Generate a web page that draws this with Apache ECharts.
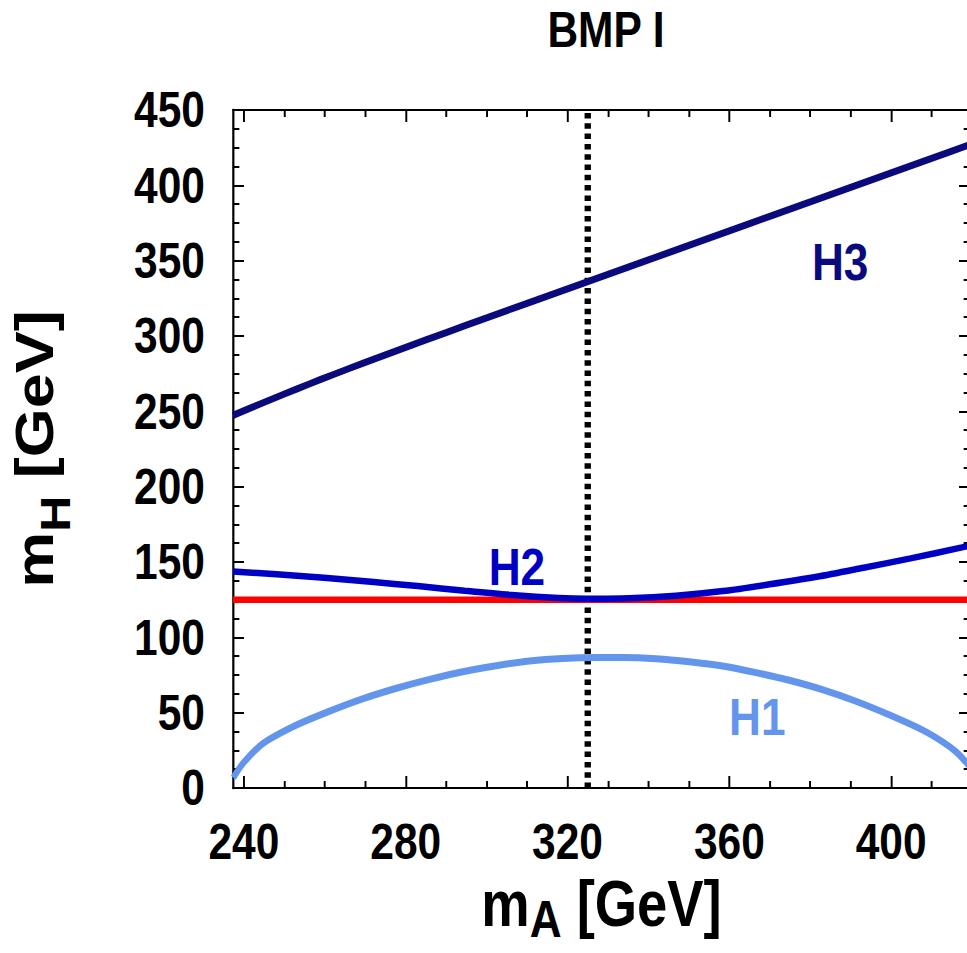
<!DOCTYPE html>
<html>
<head>
<meta charset="utf-8">
<script src="https://cdn.jsdelivr.net/npm/echarts@6/dist/echarts.min.js"></script>
<style>
html,body{margin:0;padding:0;background:#fff;overflow:hidden;width:967px;height:953px;}
#c{width:1138px;height:953px;transform:scaleX(0.85);transform-origin:0 0;}
</style>
</head>
<body>
<div id="c"></div>
<script>
// ---- data ----
const X_RANGE = [237.3, 419.5];
const Y_RANGE = [0, 450];
const X_MAJOR = [240, 280, 320, 360, 400];
const X_MINOR = [250, 260, 270, 290, 300, 310, 330, 340, 350, 370, 380, 390, 410];
const Y_MAJOR = [0, 50, 100, 150, 200, 250, 300, 350, 400, 450];
const Y_MINOR = [12.5, 25, 37.5, 62.5, 75, 87.5, 112.5, 125, 137.5, 162.5, 175, 187.5, 212.5, 225, 237.5, 262.5, 275, 287.5, 312.5, 325, 337.5, 362.5, 375, 387.5, 412.5, 425, 437.5];

const mA_H1 = [237.4, 239.8, 244.8, 253.0, 261.2, 269.5, 277.7, 285.9, 294.1, 302.4, 310.6, 318.8, 327.1, 333.7, 341.9, 350.1, 358.3, 366.6, 374.8, 383.0, 391.3, 399.5, 407.7, 412.7, 416.0, 418.4, 419.5];
const mH1   = [6.8, 16.4, 29.7, 41.8, 51.0, 59.3, 66.2, 72.1, 77.2, 81.2, 84.3, 86.0, 86.6, 86.6, 85.8, 83.8, 81.0, 76.6, 71.5, 65.3, 57.6, 48.6, 38.6, 30.7, 24.1, 17.5, 14.0];

const mA_H2 = [237.3, 248.1, 259.8, 271.4, 283.0, 294.6, 306.2, 317.8, 324.7, 335.2, 346.8, 358.4, 370.0, 381.6, 393.2, 404.8, 417.5, 419.5];
const mH2   = [143.7, 141.8, 139.6, 136.9, 134.0, 130.9, 128.1, 126.1, 125.6, 125.9, 127.6, 130.7, 135.2, 140.2, 146.2, 152.4, 159.7, 160.9];

const mA_H3 = [237.3, 244, 250, 256, 262, 270, 280, 290, 300, 310, 320, 330, 340, 350, 360, 370, 380, 390, 400, 410, 420];
const mH3   = [247.3, 254.9, 261.5, 268.0, 274.3, 282.5, 292.5, 302.3, 312.0, 321.7, 331.3, 340.9, 350.5, 360.1, 369.8, 379.4, 389.0, 398.7, 408.3, 417.9, 427.5];

const HIGGS_MASS = 125;
const MA_BENCHMARK = 325;

const LABELS = [
  {name: 'H3', x: 387.4, y: 349.5, color: '#0a0a7c'},
  {name: 'H2', x: 307.5, y: 147.0, color: '#0000c4'},
  {name: 'H1', x: 366.9, y: 47.4, color: '#6495ed'}
];

// ---- chart ----
const FONT = "'Liberation Sans', Arial, Helvetica, sans-serif";
const zip = (xs, ys) => xs.map((x, i) => [x, ys[i]]);

function xAxisDef(pos, ticks, len, showLabel, showLine) {
  return {
    type: 'value', position: pos, min: X_RANGE[0], max: X_RANGE[1],
    axisLine: {show: showLine, onZero: false, lineStyle: {color: '#000', width: 2.2}},
    axisTick: {show: true, inside: true, length: len, customValues: ticks, lineStyle: {color: '#000', width: 2.3}},
    axisLabel: showLabel ? {show: true, customValues: ticks, margin: 29, color: '#000',
      fontFamily: FONT, fontWeight: 'bold', fontSize: 50} : {show: false},
    splitLine: {show: false}
  };
}
function yAxisDef(pos, ticks, len, showLabel, showLine) {
  return {
    type: 'value', position: pos, min: Y_RANGE[0], max: Y_RANGE[1],
    axisLine: {show: showLine, onZero: false, lineStyle: {color: '#000', width: 2.6}},
    axisTick: {show: true, inside: true, length: len, customValues: ticks, lineStyle: {color: '#000', width: 2}},
    axisLabel: showLabel ? {show: true, customValues: ticks, margin: 33, color: '#000',
      fontFamily: FONT, fontWeight: 'bold', fontSize: 50} : {show: false},
    splitLine: {show: false}
  };
}

const xAxes = [
  xAxisDef('bottom', X_MAJOR, 12, true, true),
  xAxisDef('bottom', X_MINOR, 7, false, false),
  xAxisDef('top', X_MAJOR, 12, false, true),
  xAxisDef('top', X_MINOR, 7, false, false)
];
xAxes[0].name = '{m|m}{s|A}{m| [GeV]}';
xAxes[0].nameLocation = 'middle';
xAxes[0].nameGap = 84;
xAxes[0].nameTextStyle = {
  rich: {
    m: {fontFamily: FONT, fontWeight: 'bold', fontSize: 64, color: '#000', lineHeight: 64, verticalAlign: 'top'},
    s: {fontFamily: FONT, fontWeight: 'bold', fontSize: 52, color: '#000', lineHeight: 64, verticalAlign: 'top', padding: [21, 0, 0, 0]}
  }
};

const yAxes = [
  yAxisDef('left', Y_MAJOR, 13, true, true),
  yAxisDef('left', Y_MINOR, 7.5, false, false),
  yAxisDef('right', Y_MAJOR, 13, false, true),
  yAxisDef('right', Y_MINOR, 7.5, false, false)
];
yAxes[0].name = '{m|m}{s|H}{m| [GeV]}';
yAxes[0].nameLocation = 'middle';
yAxes[0].nameRotate = 90;
yAxes[0].nameGap = 181;
yAxes[0].nameTextStyle = {
  rich: {
    m: {fontFamily: FONT, fontWeight: 'bold', fontSize: 63, color: '#000', lineHeight: 84, verticalAlign: 'top'},
    s: {fontFamily: FONT, fontWeight: 'bold', fontSize: 50, color: '#000', lineHeight: 84, verticalAlign: 'top', padding: [31, 0, 0, 0]}
  }
};

const option = {
  backgroundColor: '#fff',
  animation: false,
  title: {
    text: 'BMP I', left: 639, top: 0,
    textStyle: {fontFamily: FONT, fontWeight: 'bold', fontSize: 50, color: '#000'}
  },
  grid: {left: 274.1, right: -3.2, top: 110, bottom: 165, containLabel: false, outerBoundsMode: 'none'},
  xAxis: xAxes,
  yAxis: yAxes,
  series: [
    {type: 'line', name: 'benchmark', data: [[MA_BENCHMARK, Y_RANGE[0]], [MA_BENCHMARK, Y_RANGE[1]]],
      showSymbol: false, z: 1, lineStyle: {color: '#000', width: 7.5, type: [5.5, 4.8], cap: 'butt'}},
    {type: 'line', name: 'mh125', data: [[X_RANGE[0], HIGGS_MASS], [X_RANGE[1], HIGGS_MASS]],
      showSymbol: false, z: 2, lineStyle: {color: '#ff0000', width: 6.5}},
    {type: 'line', name: 'H2', data: zip(mA_H2, mH2), smooth: 0.3, showSymbol: false, z: 3,
      lineStyle: {color: '#0000c4', width: 6.5}},
    {type: 'line', name: 'H1', data: zip(mA_H1, mH1), smooth: 0.3, showSymbol: false, z: 3,
      lineStyle: {color: '#6495ed', width: 7}},
    {type: 'line', name: 'H3', data: zip(mA_H3, mH3), smooth: 0.3, showSymbol: false, z: 3,
      lineStyle: {color: '#0a0a7c', width: 7}},
    {type: 'scatter', name: 'labels', symbolSize: 0, z: 5, silent: true,
      itemStyle: {opacity: 1},
      data: LABELS.map(l => ({value: [l.x, l.y], name: l.name, label: {color: l.color}})),
      label: {show: true, position: 'inside', formatter: p => p.name, opacity: 1,
        fontFamily: FONT, fontWeight: 'bold', fontSize: 52}}
  ]
};

const chart = echarts.init(document.getElementById('c'), null, {renderer: 'svg'});
chart.setOption(option);
</script>
</body>
</html>
